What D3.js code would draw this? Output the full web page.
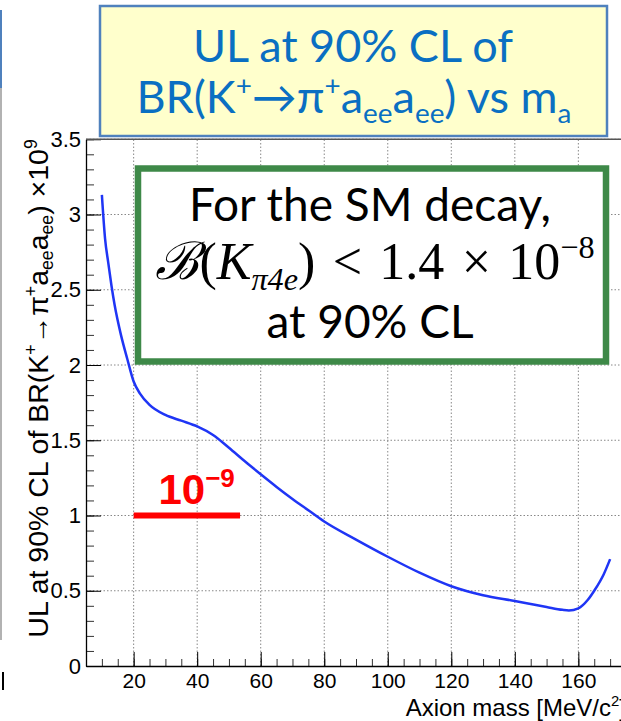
<!DOCTYPE html>
<html>
<head>
<meta charset="utf-8">
<script src="https://cdn.jsdelivr.net/npm/d3@7"></script>
<style>
  html, body { margin: 0; padding: 0; background: #fff; }
  svg { display: block; }
</style>
</head>
<body>
<div id="chart"></div>
<script>
// Upper limit curve (values in units of 1e-9)
const massValues = [10, 11, 12, 13, 14, 16, 18, 20, 22, 25, 30, 35, 40, 45, 50, 55, 60, 65, 70, 75, 80,
                    90, 100, 110, 120, 130, 140, 145, 150, 155, 157, 160, 163, 165, 168, 170]
const ulValues = [3.13, 2.84, 2.68, 2.53, 2.40, 2.20, 2.04, 1.89, 1.81, 1.735, 1.668, 1.63, 1.592, 1.535, 1.45, 1.36, 1.274, 1.19, 1.11, 1.035, 0.96,
                  0.84, 0.726, 0.62, 0.53, 0.47, 0.432, 0.412, 0.392, 0.373, 0.369, 0.383, 0.44, 0.50, 0.61, 0.71]

const xMajorTicks = [20, 40, 60, 80, 100, 120, 140, 160]
const xMinorTicks = d3.range(10, 176, 5)
const yMajorTicks = [0, 0.5, 1, 1.5, 2, 2.5, 3, 3.5]
const yMinorTicks = d3.range(0, 3.51, 0.1)

// reference line at 1e-9 (from/to in MeV)
const refLine = {value: 1, from: 20, to: 53.5}

const width = 621, height = 721

const svg = d3.select("#chart")
    .append("svg")
    .attr("width", width)
    .attr("height", height)

const x = d3.scaleLinear().domain([5, 175]).range([86, 626])
const y = d3.scaleLinear().domain([0, 3.5]).range([666, 139.25])

// helper for text with super/subscripts
function addRich(textSel, parts, size, subShift = 0.22) {
    let shift = 0
    parts.forEach(([t, mode, attrs]) => {
        const target = mode === "sup" ? -0.4 * size : mode === "sub" ? subShift * size : 0
        const ts = textSel.append("tspan")
            .attr("dy", target - shift)
            .attr("font-size", mode ? size * 0.62 : size)
            .text(t)
        if (attrs) Object.entries(attrs).forEach(([k, v]) => ts.attr(k, v))
        shift = target
    })
}

// slide leftovers on the left edge
svg.append("line").attr("x1", 1).attr("x2", 1).attr("y1", 10).attr("y2", 88).attr("stroke", "#4f81bd").attr("stroke-width", 2)
svg.append("line").attr("x1", 1).attr("x2", 1).attr("y1", 88).attr("y2", 640).attr("stroke", "#999").attr("stroke-width", 1.5)
svg.append("line").attr("x1", 3).attr("x2", 3).attr("y1", 672).attr("y2", 690).attr("stroke", "#000").attr("stroke-width", 2)

// Grid
const grid = svg.append("g")
    .attr("stroke", "#888")
    .attr("stroke-width", 1)
    .attr("stroke-dasharray", "1.5,2")
grid.selectAll("line.gx")
    .data(xMajorTicks)
    .join("line")
    .attr("class", "gx")
    .attr("x1", d => x(d)).attr("x2", d => x(d))
    .attr("y1", y(0)).attr("y2", y(3.5))
grid.selectAll("line.gy")
    .data(yMajorTicks.filter(d => d > 0))
    .join("line")
    .attr("class", "gy")
    .attr("x1", x(5)).attr("x2", width)
    .attr("y1", d => y(d)).attr("y2", d => y(d))

// Axes
const tickFont = "'Liberation Sans', Arial, sans-serif"

svg.append("g")
    .attr("transform", `translate(0,${y(0)})`)
    .call(d3.axisBottom(x).tickValues(xMinorTicks).tickSizeInner(-7).tickSizeOuter(0).tickFormat(""))
    .call(g => g.select(".domain").remove())
    .selectAll("line").attr("stroke", "#333")

svg.append("g")
    .attr("transform", `translate(0,${y(0)})`)
    .call(d3.axisBottom(x).tickValues(xMajorTicks).tickSizeInner(-14).tickSizeOuter(0).tickPadding(7).tickFormat(d => String(d)))
    .call(g => g.selectAll("text").attr("font-family", tickFont).attr("font-size", 21).attr("fill", "#000"))
    .call(g => g.select(".domain").attr("stroke", "#000").attr("stroke-width", 1.3))

svg.append("g")
    .attr("transform", `translate(${x(5)},0)`)
    .call(d3.axisLeft(y).tickValues(yMinorTicks).tickSizeInner(-8).tickSizeOuter(0).tickFormat(""))
    .call(g => g.select(".domain").remove())
    .selectAll("line").attr("stroke", "#333")

svg.append("g")
    .attr("transform", `translate(${x(5)},0)`)
    .call(d3.axisLeft(y).tickValues(yMajorTicks).tickSizeInner(-15).tickSizeOuter(0).tickPadding(5).tickFormat(d => String(d)))
    .call(g => g.selectAll("text").attr("font-family", tickFont).attr("font-size", 22).attr("fill", "#000"))
    .call(g => g.select(".domain").attr("stroke", "#000").attr("stroke-width", 1.3))

// top frame
svg.append("line")
    .attr("x1", x(5)).attr("x2", width)
    .attr("y1", y(3.5)).attr("y2", y(3.5))
    .attr("stroke", "#555").attr("stroke-width", 1.3)

// Axis titles (the x title runs off the right edge, as in the original)
const xTitle = svg.append("text")
    .attr("x", 626).attr("y", 716)
    .attr("text-anchor", "end")
    .attr("font-family", tickFont)
    .attr("fill", "#000")
addRich(xTitle, [["Axion mass [MeV/c"], ["2", "sup"], ["]"]], 24)

const yTitle = svg.append("text")
    .attr("transform", `translate(48,${y(3.5)}) rotate(-90)`)
    .attr("text-anchor", "end")
    .attr("font-family", tickFont)
    .attr("fill", "#000")
addRich(yTitle, [
    ["UL at 90% CL of BR(K"], ["+", "sup"], ["\u2192\u03c0"], ["+", "sup"],
    ["a"], ["ee", "sub"], ["a"], ["ee", "sub"], [") \u00d710"], ["9", "sup"]
], 28.5, 0.16)

// Curve
const line = d3.line()
    .x((d, i) => x(massValues[i]))
    .y(d => y(d))
    .curve(d3.curveMonotoneX)

svg.append("path")
    .datum(ulValues)
    .attr("fill", "none")
    .attr("stroke", "#1f35f5")
    .attr("stroke-width", 2.5)
    .attr("d", line)

// Red 1e-9 marker
svg.append("line")
    .attr("x1", x(refLine.from)).attr("x2", x(refLine.to))
    .attr("y1", y(refLine.value)).attr("y2", y(refLine.value))
    .attr("stroke", "#ff0000")
    .attr("stroke-width", 6)

const redLabel = svg.append("text")
    .attr("x", x(27.8)).attr("y", y(1.077))
    .attr("font-family", tickFont)
    .attr("font-weight", "bold")
    .attr("fill", "#ff0000")
addRich(redLabel, [["10"], ["\u2212" + "9", "sup"]], 42)

// Title box
svg.append("rect")
    .attr("x", 100).attr("y", 6)
    .attr("width", 507).attr("height", 130)
    .attr("fill", "#ffffcc")
    .attr("stroke", "#4f81bd")
    .attr("stroke-width", 2.5)

const titleFont = "Lato, 'Open Sans', sans-serif"
svg.append("text")
    .attr("x", 353).attr("y", 62)
    .attr("text-anchor", "middle")
    .attr("font-family", titleFont)
    .attr("font-size", 45)
    .attr("fill", "#0a6fc2")
    .text("UL at 90% CL of")

const title2 = svg.append("text")
    .attr("x", 354).attr("y", 113)
    .attr("text-anchor", "middle")
    .attr("font-family", titleFont)
    .attr("fill", "#0a6fc2")
addRich(title2, [
    ["BR(K"], ["+", "sup"], ["\u2192\u03c0"], ["+", "sup"], ["a"], ["ee", "sub"],
    ["a"], ["ee", "sub"], [") vs m"], ["a", "sub"]
], 45)

// SM decay box
svg.append("rect")
    .attr("x", 138).attr("y", 168.5)
    .attr("width", 468).attr("height", 193)
    .attr("fill", "#fff")
    .attr("stroke", "#3e8948")
    .attr("stroke-width", 6.5)

svg.append("text")
    .attr("x", 370).attr("y", 221)
    .attr("text-anchor", "middle")
    .attr("font-family", titleFont)
    .attr("font-size", 46)
    .attr("fill", "#000")
    .text("For the SM decay,")

const mathFont = "'Liberation Serif', 'DejaVu Serif', serif"
const mathLine = svg.append("text")
    .attr("x", 375).attr("y", 279)
    .attr("text-anchor", "middle")
    .attr("font-family", mathFont)
    .attr("fill", "#000")
addRich(mathLine, [
    ["\u212c", "", {"font-style": "italic"}], ["("], ["K", "", {"font-style": "italic"}],
    ["\u03c04e", "sub", {"font-style": "italic"}], [")\u2004<\u20041.4\u2004\u00d7\u200410"], ["\u22128", "sup"]
], 52)

svg.append("text")
    .attr("x", 370).attr("y", 338)
    .attr("text-anchor", "middle")
    .attr("font-family", titleFont)
    .attr("font-size", 46)
    .attr("fill", "#000")
    .text("at 90% CL")
</script>
</body>
</html>
